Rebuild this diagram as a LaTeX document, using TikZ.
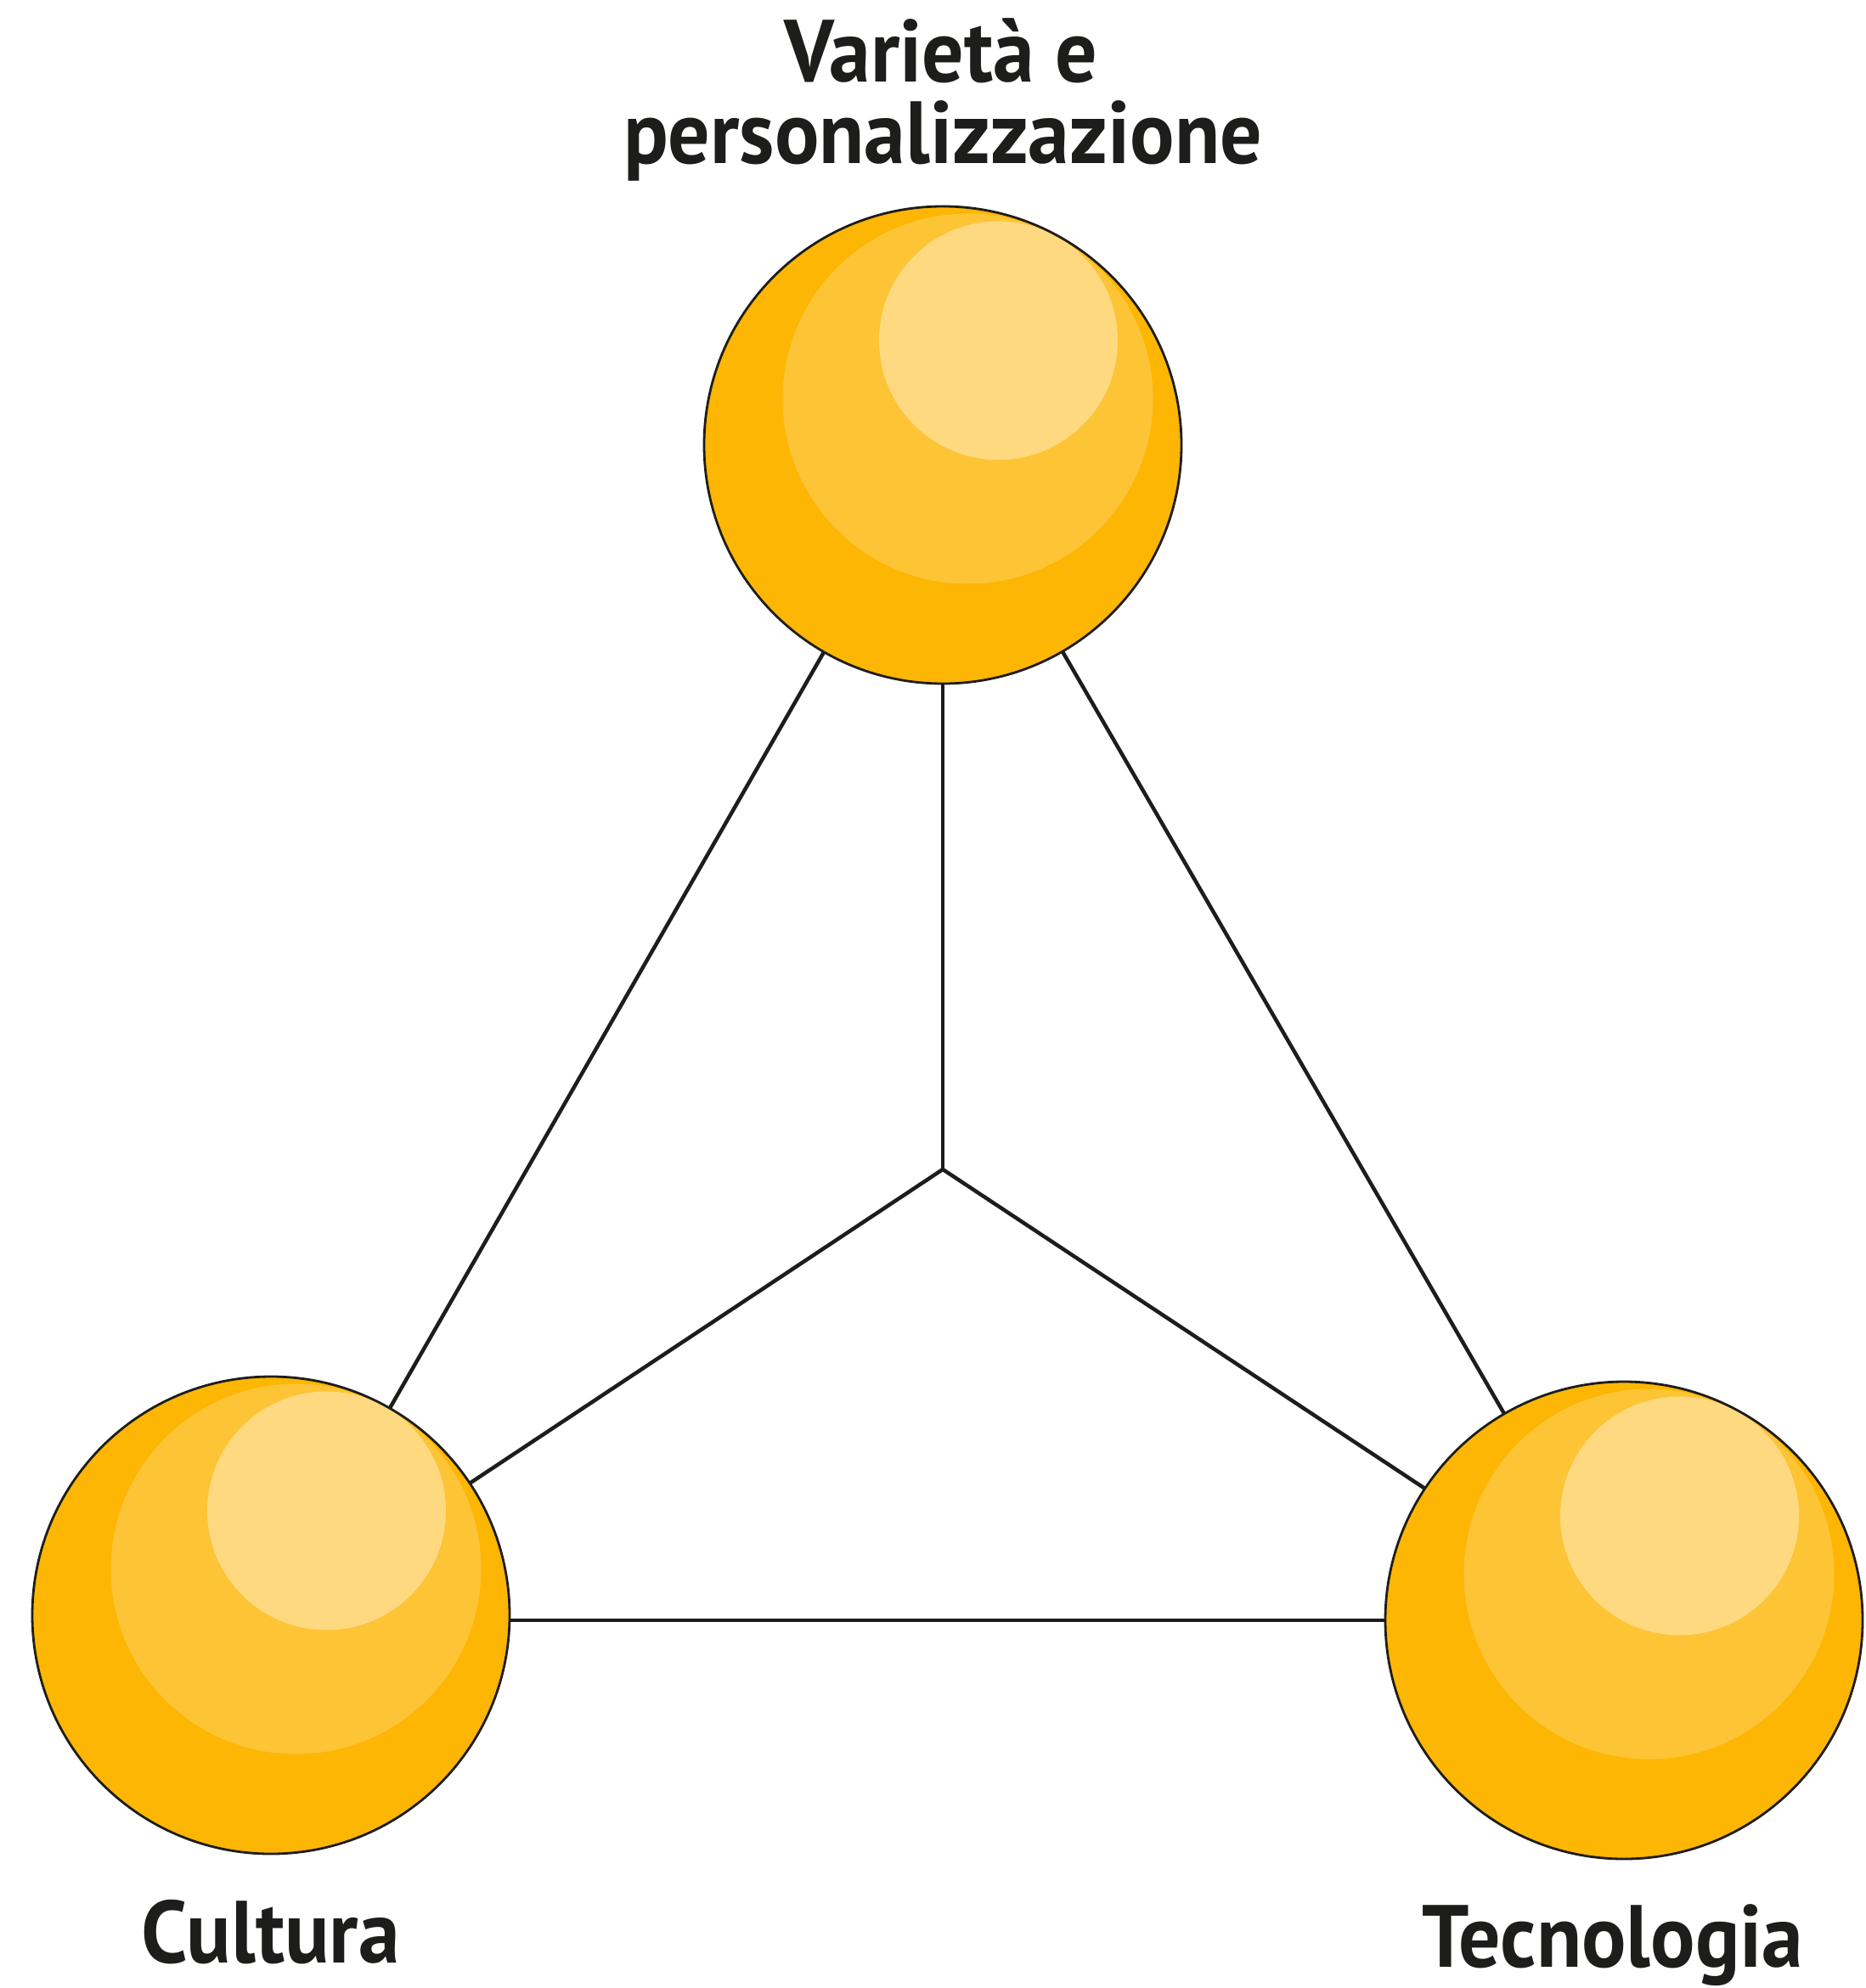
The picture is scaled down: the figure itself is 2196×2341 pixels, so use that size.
\documentclass[tikz,border=0pt]{standalone}
\usepackage{fontspec}
\setmainfont{PT Sans}[FakeStretch=0.94]
\usetikzlibrary{backgrounds,calc}
\definecolor{ink}{HTML}{1D1D1B}
\definecolor{sunA}{HTML}{FDB603}
\definecolor{sunB}{HTML}{FDC436}
\definecolor{sunC}{HTML}{FED97F}
\tikzset{
  sphere/.style={circle, minimum size=562pt, inner sep=0pt, draw=ink, line width=2.8pt, fill=sunA,
    path picture={
      \fill[sunB] ($(path picture bounding box.center)+(29.5,-54.5)$) circle (218pt);
      \fill[sunC] ($(path picture bounding box.center)+(65.5,-123)$) circle (140.5pt);
    }},
  conn/.style={draw=ink, line width=4.5pt},
  lab/.style={anchor=base, text=ink, inner sep=0pt, font=\fontsize{104}{96}\selectfont\bfseries}
}
\begin{document}
\begin{tikzpicture}[x=1pt,y=-1pt]
\useasboundingbox (0,0) rectangle (2196,2341);
\node[sphere] (top) at (1110,524) {};
\node[sphere] (left) at (319,1902) {};
\node[sphere] (right) at (1912,1908) {};
\coordinate (j) at (1110,1377);
\begin{scope}[on background layer]
  \draw[conn] (top.center) -- (left.center);
  \draw[conn] (top.center) -- (right.center);
  \draw[conn] (left.center |- right.center) -- (right.center);
  \draw[conn] (top.center) -- (j);
  \draw[conn, line join=miter] (left.center) -- (j) -- (right.center);
\end{scope}
\node[lab] (t1) at (1108,97) {Varietà e};
\node[lab] (t2) at (1110,193) {personalizzazione};
\node[lab] (cu) at (318.5,2311) {Cultura};
\node[lab] (te) at (1899,2316) {Tecnologia};
\end{tikzpicture}
\end{document}
